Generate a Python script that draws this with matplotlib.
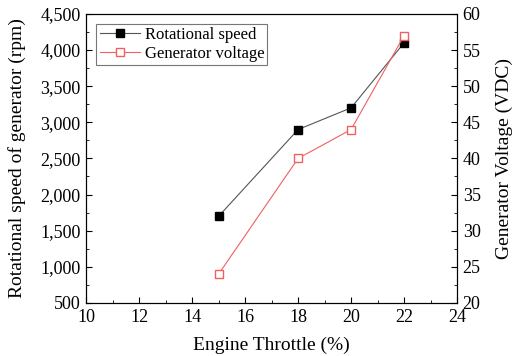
import matplotlib
matplotlib.use("Agg")
import matplotlib.pyplot as plt
from matplotlib.ticker import MultipleLocator, FuncFormatter

plt.rcParams['font.family'] = ['Liberation Serif', 'DejaVu Serif']

throttle = [15, 18, 20, 22]
speed_rpm = [1700, 2900, 3200, 4100]
voltage_vdc = [24, 40, 44, 57]

fig = plt.figure(figsize=(5.13, 3.56), dpi=100)
ax = fig.add_axes([0.168, 0.149, 0.723, 0.812])
ax2 = ax.twinx()

l1, = ax.plot(throttle, speed_rpm, color='#555555', lw=0.8, marker='s', ms=5.5,
              mfc='black', mec='black', label='Rotational speed')
l2, = ax2.plot(throttle, voltage_vdc, color='#f06060', lw=0.8, marker='s', ms=5.5,
               mfc='white', mec='#f06060', label='Generator voltage')

ax.set_xlim(10, 24)
ax.set_ylim(500, 4500)
ax2.set_ylim(20, 60)
ax.xaxis.set_major_locator(MultipleLocator(2))
ax.xaxis.set_minor_locator(MultipleLocator(1))
ax.yaxis.set_major_locator(MultipleLocator(500))
ax.yaxis.set_minor_locator(MultipleLocator(250))
ax2.yaxis.set_major_locator(MultipleLocator(5))
ax2.yaxis.set_minor_locator(MultipleLocator(2.5))
ax.yaxis.set_major_formatter(FuncFormatter(lambda v, p: '{:,.0f}'.format(v)))

for a in (ax, ax2):
    a.tick_params(which='both', direction='in', labelsize=13, pad=4)
    a.tick_params(which='major', length=4)
    a.tick_params(which='minor', length=2)
ax.tick_params(top=False)

ax.set_xlabel('Engine Throttle (%)', fontsize=14, labelpad=8)
ax.set_ylabel('Rotational speed of generator (rpm)', fontsize=14, labelpad=10)
ax2.set_ylabel('Generator Voltage (VDC)', fontsize=14, labelpad=11)

leg = ax.legend(handles=[l1, l2], loc='upper left', fontsize=12, frameon=True,
                fancybox=False, edgecolor='#555555', borderaxespad=0.6,
                handlelength=2.4, handletextpad=0.3, borderpad=0.2,
                labelspacing=0.15)
leg.get_frame().set_linewidth(0.8)

fig.savefig('out.png', dpi=100)
